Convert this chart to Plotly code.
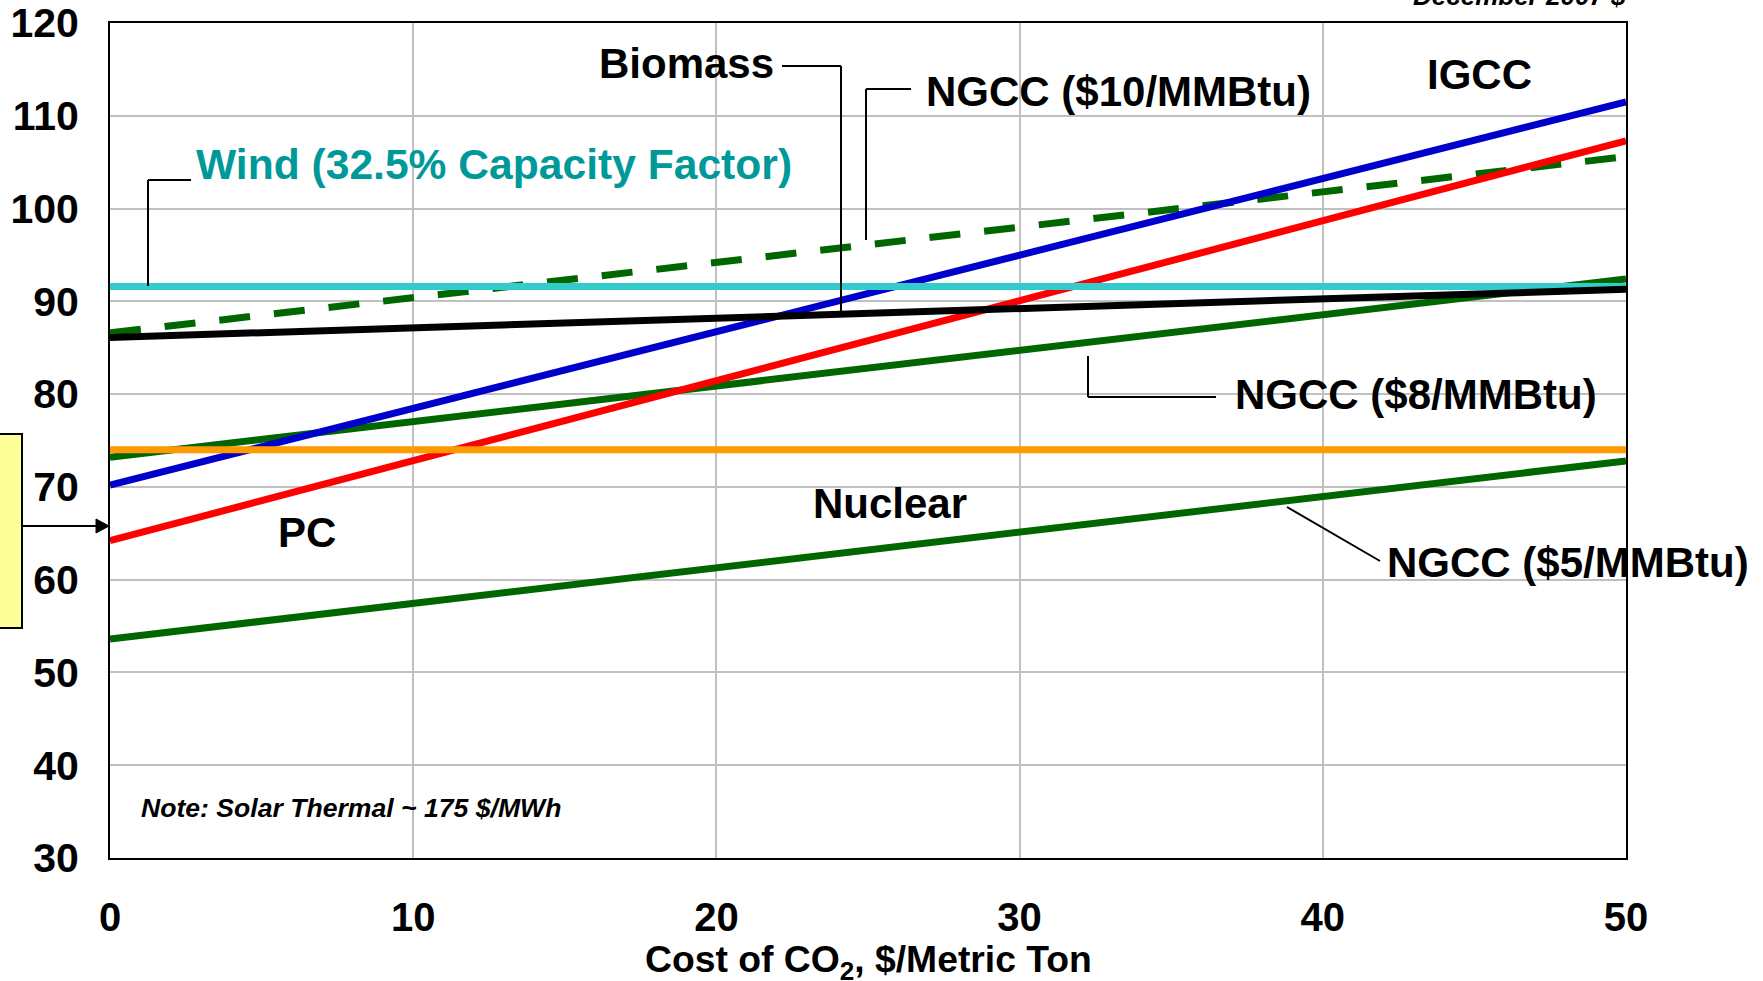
import plotly.graph_objects as go

# ---------------- data ----------------
co2_cost = [0, 50]
ngcc_5 = [53.6, 72.8]
ngcc_8 = [73.2, 92.4]
ngcc_10 = [86.6, 105.6]
igcc = [70.2, 111.5]
pc = [64.2, 107.3]
nuclear = [74.0, 74.0]
wind = [91.6, 91.6]
biomass = [86.1, 91.3]

x_ticks = [0, 10, 20, 30, 40, 50]
y_ticks = [30, 40, 50, 60, 70, 80, 90, 100, 110, 120]

# ---------------- layout geometry ----------------
W, H = 1763, 981
L, R, T, B = 110, 1626, 23, 858
FONT = "Arial, Liberation Sans, sans-serif"


def px(xp):
    return (xp - L) / (R - L)


def py(yp):
    return (B - yp) / (B - T)


fig = go.Figure()

series = [
    (ngcc_5, "#006600", None, "NGCC ($5/MMBtu)"),
    (ngcc_8, "#006600", None, "NGCC ($8/MMBtu)"),
    (ngcc_10, "#006600", "31px,24px", "NGCC ($10/MMBtu)"),
    (igcc, "#0000CC", None, "IGCC"),
    (pc, "#FF0000", None, "PC"),
    (nuclear, "#FF9900", None, "Nuclear"),
    (wind, "#33CCCC", None, "Wind"),
    (biomass, "#000000", None, "Biomass"),
]
for ys, col, dash, name in series:
    fig.add_trace(go.Scatter(
        x=co2_cost, y=ys, mode="lines", name=name,
        line=dict(color=col, width=7, dash=dash),
        hoverinfo="skip",
    ))

annotations = []


def label(text, xc, yc, color="black", size=42, xanchor="center", italic=False):
    annotations.append(dict(
        text=f"<i>{text}</i>" if italic else text,
        x=px(xc), y=py(yc), xref="paper", yref="paper",
        xanchor=xanchor, yanchor="middle", showarrow=False,
        font=dict(family=FONT, size=size, color=color, weight="bold"),
    ))


label("Biomass", 686, 63)
label("NGCC ($10/MMBtu)", 1118, 92)
label("Wind (32.5% Capacity Factor)", 494, 164, color="#009999", size=42.6)
label("IGCC", 1479, 75)
label("PC", 307, 532)
label("Nuclear", 890, 503)
label("NGCC ($8/MMBtu)", 1416, 394)
label("NGCC ($5/MMBtu)", 1568, 562)
label("Note: Solar Thermal ~ 175 $/MWh", 139, 808, size=26.6, xanchor="left", italic=True)
label("Cost of CO<sub>2</sub>, $/Metric Ton", 868, 962, size=37.3)

annotations.append(dict(
    text="<i>December 2007 $</i>", x=px(1628), y=py(-4), xref="paper", yref="paper",
    xanchor="right", yanchor="middle", showarrow=False,
    font=dict(family=FONT, size=26, color="black", weight="bold"),
))

shapes = []


def seg(x0, y0, x1, y1, w=2):
    shapes.append(dict(type="line", xref="paper", yref="paper",
                       x0=px(x0), y0=py(y0), x1=px(x1), y1=py(y1),
                       line=dict(color="black", width=w), layer="above"))


# leader lines
seg(148, 286, 148, 180)
seg(148, 180, 191, 180)
seg(782, 66, 841, 66)
seg(841, 66, 841, 311)
seg(911, 89, 866, 89)
seg(866, 89, 866, 240)
seg(1088, 356, 1088, 397)
seg(1088, 397, 1216, 397)
seg(1287, 507, 1380, 561)

# yellow box and arrow on the left
shapes.append(dict(type="rect", xref="paper", yref="paper",
                   x0=px(-40), x1=px(22), y0=py(628), y1=py(434),
                   fillcolor="#FFFF99", line=dict(color="black", width=2), layer="above"))
seg(22, 526, 98, 526)
shapes.append(dict(type="path", xref="paper", yref="paper",
                   path=f"M {px(96)} {py(519)} L {px(109)} {py(526)} L {px(96)} {py(533)} Z",
                   fillcolor="black", line=dict(color="black", width=1), layer="above"))

fig.update_layout(
    width=W, height=H,
    margin=dict(l=L, r=W - R, t=T, b=H - B, autoexpand=False),
    paper_bgcolor="white", plot_bgcolor="white",
    showlegend=False,
    annotations=annotations,
    shapes=shapes,
    font=dict(family=FONT, color="black"),
)
fig.update_xaxes(
    range=[0, 50], tickvals=x_ticks, ticktext=[str(v) for v in x_ticks],
    showgrid=True, gridcolor="#C0C0C0", gridwidth=2,
    showline=True, linecolor="black", linewidth=2, mirror=True,
    ticks="", ticklabelstandoff=23, automargin=False,
    tickfont=dict(family=FONT, size=40, color="black", weight="bold"),
    zeroline=False,
)
fig.update_yaxes(
    range=[30, 120], tickvals=y_ticks, ticktext=[str(v) for v in y_ticks],
    showgrid=True, gridcolor="#C0C0C0", gridwidth=2,
    showline=True, linecolor="black", linewidth=2, mirror=True,
    ticks="", ticklabelstandoff=21, automargin=False,
    tickfont=dict(family=FONT, size=41, color="black", weight="bold"),
    zeroline=False,
)

fig.write_html("out.html")
